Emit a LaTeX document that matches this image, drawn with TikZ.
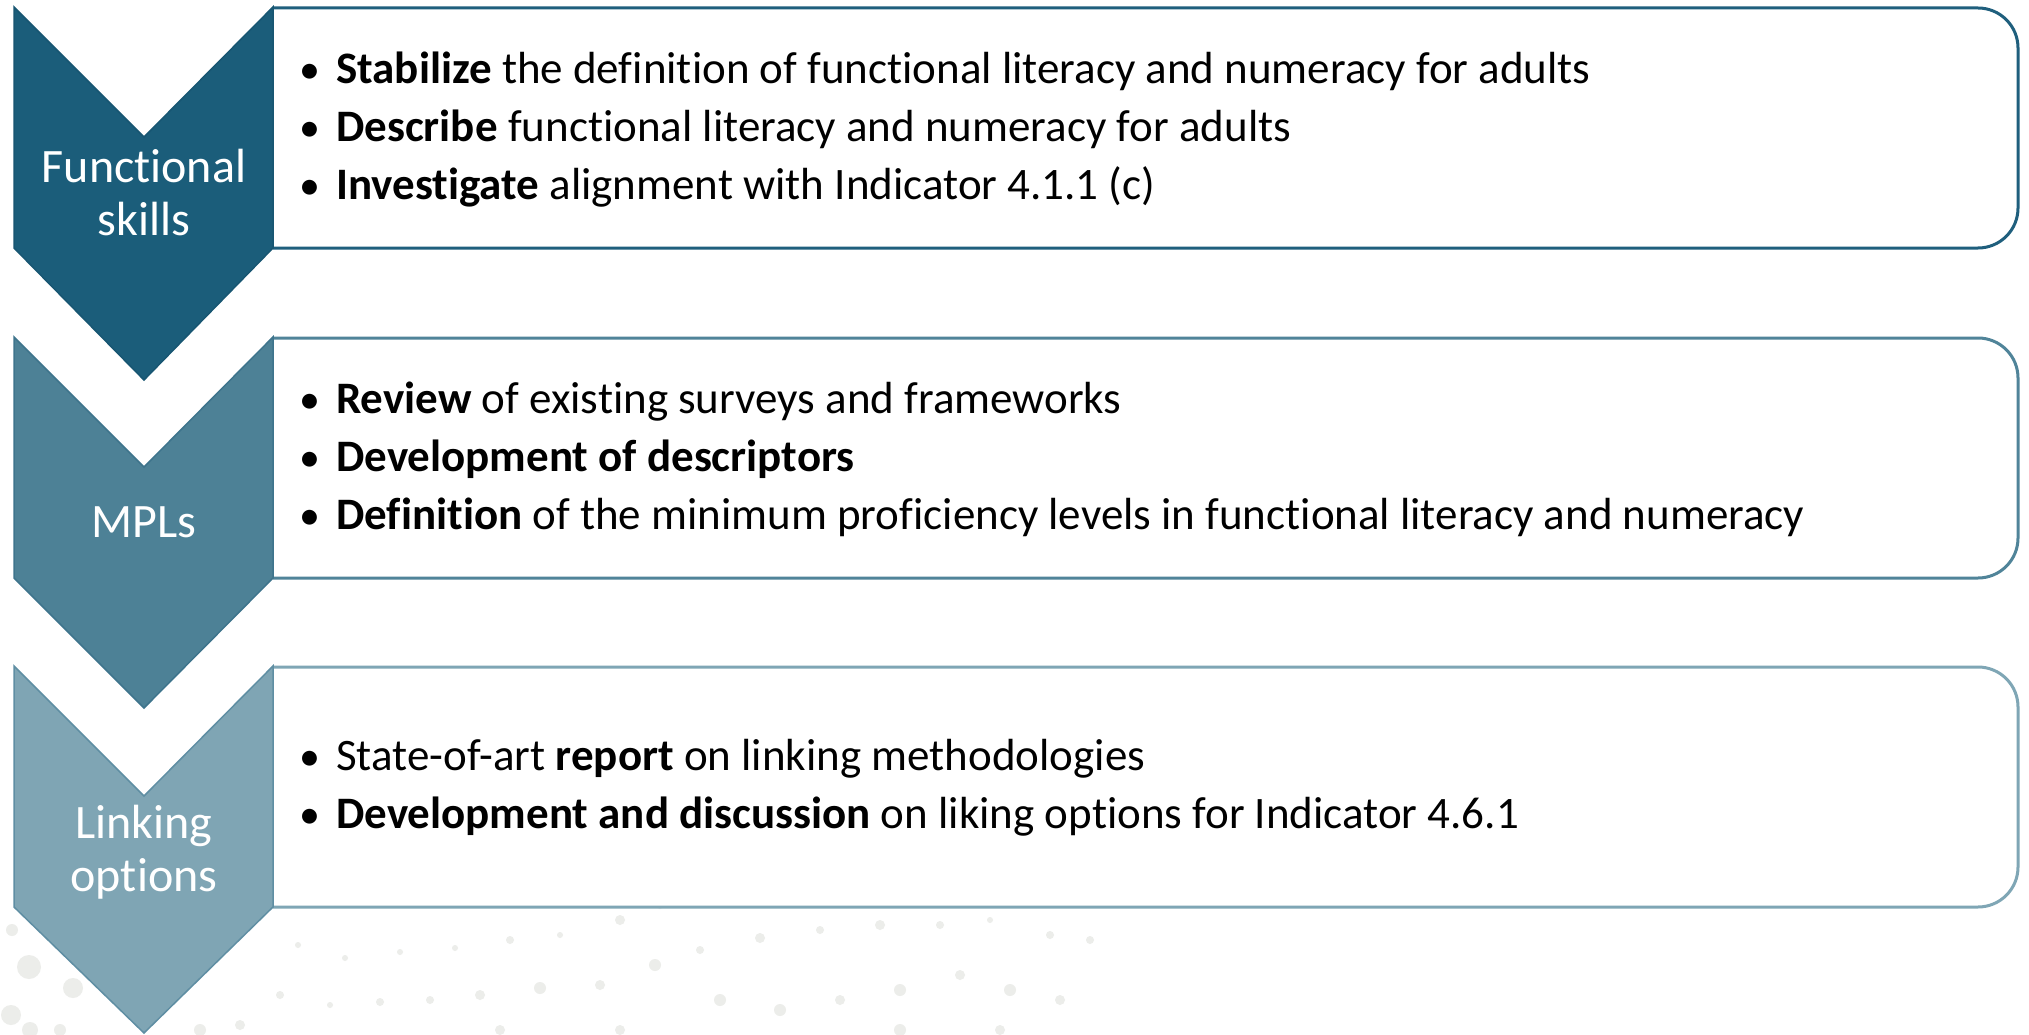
\documentclass[tikz,border=0pt]{standalone}
\usepackage{fontspec}
\setmainfont{Carlito}[Ligatures=NoCommon]
\definecolor{cA}{RGB}{27,93,122}
\definecolor{cAb}{RGB}{24,86,114}
\definecolor{cB}{RGB}{77,129,150}
\definecolor{cBb}{RGB}{62,116,140}
\definecolor{cC}{RGB}{127,165,180}
\definecolor{cCb}{RGB}{95,142,163}
\definecolor{bA}{RGB}{31,95,125}
\definecolor{bB}{RGB}{80,132,153}
\definecolor{bC}{RGB}{127,166,181}
\definecolor{dotc}{RGB}{236,237,234}
\tikzset{
  chevlabel/.style={text=white, align=center, inner sep=0pt, font=\fontsize{48}{53}\selectfont},
  bullets/.style={anchor=west, align=left, inner sep=0pt, text=black, font=\fontsize{45}{58}\selectfont},
  boxline/.style={line width=3pt, fill=white, rounded corners=40pt},
  chevline/.style={line width=1.5pt, line join=miter}
}
\newcommand{\bul}{\makebox[37pt][l]{{\fontsize{42}{42}\selectfont •}}}
\begin{document}
\begin{tikzpicture}[x=1pt,y=-1pt]
\useasboundingbox[fill=white] (0,0) rectangle (2029,1035);
% faint background dots
\foreach \x/\y/\r in {29/967/12, 73/988/10, 11/1015/10, 30/1030/8, 12/930/6, 60/1030/6,
  298/945/3, 345/958/3, 400/952/3, 455/948/3, 510/940/4, 560/935/3, 620/920/5, 660/905/4,
  280/995/4, 330/1005/3, 380/1002/4, 430/1000/4, 480/995/5, 540/988/6, 600/985/5, 655/965/6,
  700/950/4, 760/938/5, 820/930/4, 880/925/5, 940/925/4, 990/920/3, 1050/935/4, 1090/940/4,
  720/1000/6, 780/1010/6, 840/1000/5, 900/990/6, 960/975/5, 1010/990/6, 1060/1000/5,
  200/1030/6, 240/1025/5, 500/1030/5, 620/1030/5, 900/1030/6, 1000/1030/5}
  \fill[dotc] (\x,\y) circle (\r);
% boxes
\filldraw[boxline, draw=bA] (273,8) -- (2018,8) -- (2018,248) -- (273,248);
\filldraw[boxline, draw=bB] (273,338) -- (2018,338) -- (2018,578) -- (273,578);
\filldraw[boxline, draw=bC] (273,667) -- (2018,667) -- (2018,907) -- (273,907);
% chevrons
\filldraw[chevline, fill=cA, draw=cAb] (14,7) -- (144,137) -- (273,7) -- (273,248) -- (144,380) -- (14,248) -- cycle;
\filldraw[chevline, fill=cB, draw=cBb] (14,337) -- (144,467) -- (273,337) -- (273,578) -- (144,708) -- (14,578) -- cycle;
\filldraw[chevline, fill=cC, draw=cCb] (14,666) -- (144,796) -- (273,666) -- (273,907) -- (144,1033) -- (14,907) -- cycle;
% chevron labels
\node[chevlabel] (l1) at (144,193) {Functional\\skills};
\node[chevlabel] (l2) at (144,522) {MPLs};
\node[chevlabel] (l3) at (144,852) {Linking\\options};
% bullet texts
\node[bullets] (t1) at (299,130) {\bul\textbf{Stabilize} the definition of functional literacy and numeracy for adults\\
\bul\textbf{Describe} functional literacy and numeracy for adults\\
\bul\textbf{Investigate} alignment with Indicator 4.1.1 (c)};
\node[bullets] (t2) at (299,459) {\bul\textbf{Review} of existing surveys and frameworks\\
\bul\textbf{Development of descriptors}\\
\bul\textbf{Definition} of the minimum proficiency levels in functional literacy and numeracy};
\node[bullets] (t3) at (299,788) {\bul State-of-art \textbf{report} on linking methodologies\\
\bul\textbf{Development and discussion} on liking options for Indicator 4.6.1};
\end{tikzpicture}
\end{document}
